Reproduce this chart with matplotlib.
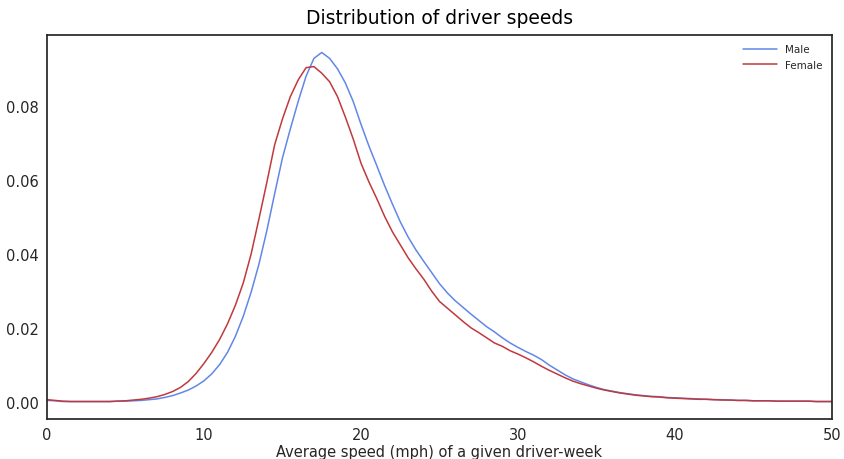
import numpy as np
import matplotlib
matplotlib.use("Agg")
import matplotlib.pyplot as plt
import seaborn as sns

speed = np.arange(0, 50.01, 0.5)

male = [
    0.0005, 0.0004, 0.0002, 0.0002, 0.0002, 0.0002, 0.0002, 0.0002, 0.0002, 0.0003,  # 0-4.5
    0.0003, 0.0004, 0.0005, 0.0007, 0.0009, 0.0013, 0.0018, 0.0025, 0.0033, 0.0044,  # 5-9.5
    0.0058, 0.0077, 0.0102, 0.0135, 0.0178, 0.0232, 0.0297, 0.0373, 0.0463, 0.0563,  # 10-14.5
    0.0660, 0.0738, 0.0812, 0.0880, 0.0928, 0.0944, 0.0928, 0.0900, 0.0862, 0.0812,  # 15-19.5
    0.0750, 0.0692, 0.0639, 0.0585, 0.0535, 0.0487, 0.0446, 0.0411, 0.0380, 0.0350,  # 20-24.5
    0.0320, 0.0295, 0.0274, 0.0256, 0.0238, 0.0221, 0.0204, 0.0190, 0.0174, 0.0160,  # 25-29.5
    0.0148, 0.0137, 0.0127, 0.0115, 0.0100, 0.0087, 0.0074, 0.0063, 0.0055, 0.0047,  # 30-34.5
    0.0040, 0.0034, 0.0030, 0.0026, 0.0023, 0.0020, 0.0018, 0.0016, 0.0015, 0.0013,  # 35-39.5
    0.0012, 0.0011, 0.0010, 0.0009, 0.0008, 0.0007, 0.0007, 0.0006, 0.0005, 0.0005,  # 40-44.5
    0.0004, 0.0004, 0.0004, 0.0003, 0.0003, 0.0003, 0.0003, 0.0003, 0.0002, 0.0002,  # 45-49.5
    0.0002,
]

female = [
    0.0007, 0.0005, 0.0003, 0.0002, 0.0002, 0.0002, 0.0002, 0.0002, 0.0002, 0.0003,  # 0-4.5
    0.0004, 0.0006, 0.0008, 0.0011, 0.0015, 0.0021, 0.0029, 0.0040, 0.0056, 0.0078,  # 5-9.5
    0.0105, 0.0135, 0.0170, 0.0212, 0.0262, 0.0322, 0.0400, 0.0495, 0.0593, 0.0695,  # 10-14.5
    0.0765, 0.0825, 0.0870, 0.0903, 0.0906, 0.0888, 0.0865, 0.0825, 0.0770, 0.0711,  # 15-19.5
    0.0645, 0.0595, 0.0550, 0.0502, 0.0460, 0.0425, 0.0390, 0.0360, 0.0332, 0.0300,  # 20-24.5
    0.0272, 0.0254, 0.0236, 0.0218, 0.0201, 0.0188, 0.0174, 0.0160, 0.0151, 0.0139,  # 25-29.5
    0.0130, 0.0120, 0.0109, 0.0097, 0.0086, 0.0076, 0.0066, 0.0057, 0.0050, 0.0044,  # 30-34.5
    0.0038, 0.0033, 0.0029, 0.0025, 0.0022, 0.0019, 0.0017, 0.0015, 0.0014, 0.0012,  # 35-39.5
    0.0011, 0.0010, 0.0009, 0.0008, 0.0008, 0.0007, 0.0006, 0.0006, 0.0005, 0.0005,  # 40-44.5
    0.0004, 0.0004, 0.0004, 0.0003, 0.0003, 0.0003, 0.0003, 0.0003, 0.0002, 0.0002,  # 45-49.5
    0.0002,
]

series_labels = ["Male", "Female"]
title = "Distribution of driver speeds"
xlabel = "Average speed (mph) of a given driver-week"

sns.set_style("white")
plt.rcParams["font.family"] = ["DejaVu Sans"]

fig = plt.figure(figsize=(8.44, 4.60), dpi=100)
ax = fig.add_axes([0.0557, 0.087, 0.9301, 0.8347])

ax.plot(speed, male, color="#6287e8", lw=1.1, label=series_labels[0])
ax.plot(speed, female, color="#c0393d", lw=1.1, label=series_labels[1])

ax.set_xlim(0, 50)
ax.margins(x=0)
ax.set_xticks([0, 10, 20, 30, 40, 50])
ax.set_yticks([0.0, 0.02, 0.04, 0.06, 0.08])
ax.yaxis.set_major_formatter(matplotlib.ticker.FormatStrFormatter("%.2f"))
ax.tick_params(labelsize=10.5, colors="#262626", length=0, pad=6)
ax.set_xlabel(xlabel, fontsize=10.5, color="#262626", labelpad=1)
ax.set_title(title, fontsize=13.5, color="#000000", pad=9)

for s in ax.spines.values():
    s.set_color("#262626")
    s.set_linewidth(1.25)

leg = ax.legend(loc="upper right", fontsize=7.5, frameon=False, handlelength=3.2)

fig.savefig("out.png", dpi=100)
